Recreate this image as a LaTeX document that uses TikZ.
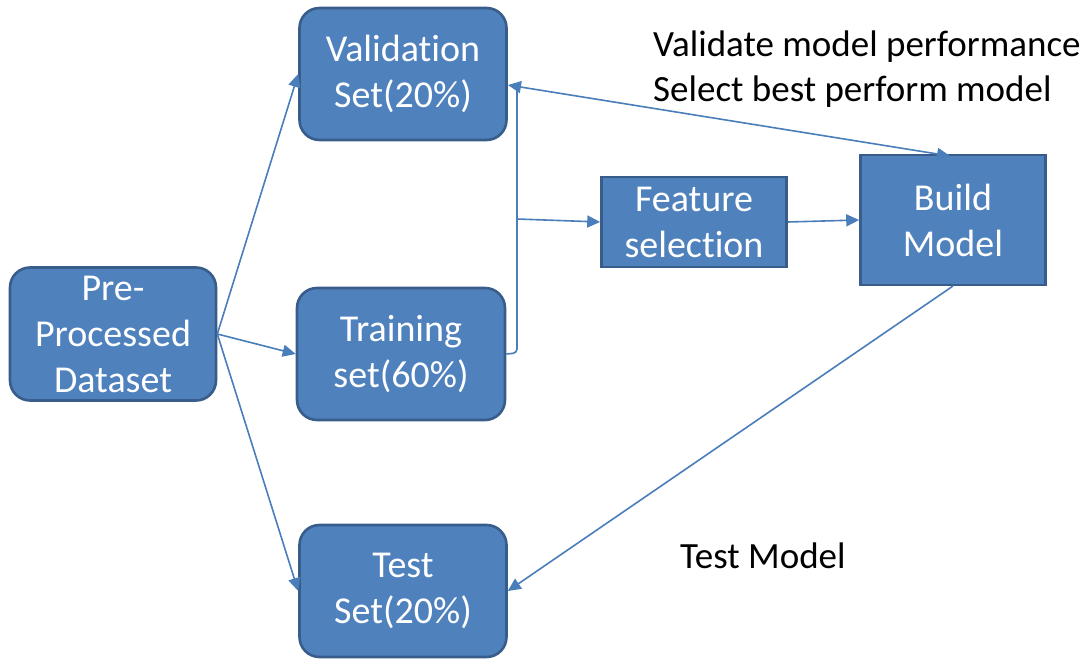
\documentclass[tikz,border=0pt]{standalone}
\usepackage{fontspec}
\setmainfont[Ligatures=NoCommon]{Carlito}
\usetikzlibrary{arrows.meta,calc}
\definecolor{boxfill}{HTML}{4F81BD}
\definecolor{boxline}{HTML}{385D8A}
\definecolor{conn}{HTML}{4A7EBB}
\begin{document}
\begin{tikzpicture}[x=1pt,y=-1pt,
  rbox/.style={draw=boxline,fill=boxfill,line width=2.6pt,rounded corners=20pt,
    text=white,align=center,font=\fontsize{38}{46}\selectfont,inner sep=0pt},
  sbox/.style={draw=boxline,fill=boxfill,line width=2.6pt,
    text=white,align=center,font=\fontsize{38}{46}\selectfont,inner sep=0pt},
  conn/.style={draw=conn,line width=1.6pt},
  arr/.style={conn,-{Triangle[length=13pt,width=12pt]}},
  note/.style={anchor=west,inner sep=0pt,font=\fontsize{37}{45}\selectfont,text=black}]
\useasboundingbox[fill=white] (0,0) rectangle (1088,660);
\node[rbox,minimum width=206pt,minimum height=133pt] (pre) at (113,334) {Pre-\\Processed\\Dataset};
\node[rbox,minimum width=207pt,minimum height=132pt] (val) at (403,74) {Validation\\Set(20\%)};
\node[rbox,minimum width=208pt,minimum height=132pt] (trn) at (401,354) {Training\\set(60\%)};
\node[rbox,minimum width=207pt,minimum height=132pt] (tst) at (403,591) {Test\\Set(20\%)};
\node[sbox,minimum width=185pt,minimum height=90pt] (fs) at (694,222) {Feature\\selection};
\node[sbox,minimum width=185pt,minimum height=130pt] (bm) at (953,220) {Build\\Model};
\node[note] (n1) at (653,47) {Validate model performance};
\node[note] (n2) at (653,92) {Select best perform model};
\node[note] (n3) at (680,556) {Test Model};
\coordinate (vt) at (508,85);
\coordinate (bt) at (950,156);
\coordinate (jt) at (517,85);
\coordinate (jm) at (517,219);
\coordinate (jb) at (517,353);
\coordinate (bb) at (953,286);
\draw[arr] (pre.east) -- (val.west);
\draw[arr] (pre.east) -- (trn.west);
\draw[arr] (pre.east) -- (tst.west);
\draw[conn,rounded corners=4pt] (trn.east) -- (jb) -- (jt);
\draw[arr] (jm) -- (fs.west);
\draw[conn,{Triangle[length=13pt,width=12pt]}-{Triangle[length=13pt,width=12pt]}] (vt) -- (bt);
\draw[arr] (fs.east) -- (bm.west);
\draw[arr] (bb) -- (tst.east);
\end{tikzpicture}
\end{document}
